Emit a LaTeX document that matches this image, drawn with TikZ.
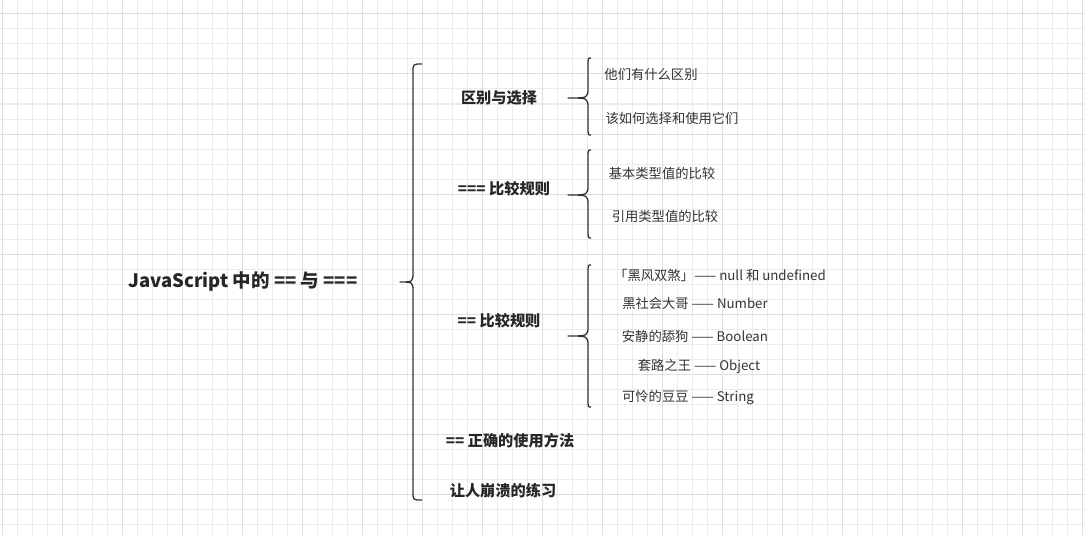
\documentclass[tikz,border=0pt]{standalone}
\usepackage{fontspec}
\setmainfont{Noto Sans CJK SC}
\begin{document}
\begin{tikzpicture}[x=1pt,y=-1pt,
  root/.style={font=\fontsize{18.5}{20}\selectfont\bfseries,text=black!85},
  sub/.style={font=\fontsize{15.2}{17}\selectfont\bfseries,text=black!85},
  leaf/.style={font=\fontsize{13.3}{15}\selectfont,text=black!80},
  br/.style={draw=black!80,line width=1.3pt,line join=round}]
\fill[white] (0,0) rectangle (1085,535);
\useasboundingbox (0,0) rectangle (1085,535);
\foreach \x in {2,17,...,1085} \draw[black!8,line width=1pt] (\x,0) -- (\x,535);
\foreach \y in {14,29,...,535} \draw[black!8,line width=1pt] (0,\y) -- (1085,\y);
\foreach \x in {2,62,...,1085} \draw[black!13,line width=1pt] (\x,0) -- (\x,535);
\foreach \y in {14,74,...,535} \draw[black!13,line width=1pt] (0,\y) -- (1085,\y);
\newcommand\mybrace[6]{% xr, xm, xtip, ytop, ytip, ybot
 \draw[br] (#1,#4) .. controls (#2,#4) .. (#2,#4+8) -- (#2,#5-10) .. controls (#2,#5) .. (#3,#5) .. controls (#2,#5) .. (#2,#5+10) -- (#2,#6-8) .. controls (#2,#6) .. (#1,#6);}
\node[root] (r) at (243,282) {JavaScript 中的 == 与 ===};
\mybrace{422}{413}{400}{64}{282}{500}
\node[sub] (a) at (499,98) {区别与选择};
\node[sub] (b) at (504,189) {=== 比较规则};
\node[sub] (c) at (499,321) {== 比较规则};
\node[sub] (d) at (510,441) {== 正确的使用方法};
\node[sub] (e) at (503,491) {让人崩溃的练习};
\mybrace{591}{588}{568}{58}{98}{135}
\mybrace{591}{588}{568}{150}{195}{238}
\mybrace{591}{588}{568}{265}{336}{407}
\node[leaf] (a1) at (651,74) {他们有什么区别};
\node[leaf] (a2) at (672,118) {该如何选择和使用它们};
\node[leaf] (b1) at (662,173) {基本类型值的比较};
\node[leaf] (b2) at (665,216) {引用类型值的比较};
\node[leaf] (c1) at (720,275) {「黑风双煞」—— null 和 undefined};
\node[leaf] (c2) at (695,303) {黑社会大哥 —— Number};
\node[leaf] (c3) at (695,336) {安静的舔狗 —— Boolean};
\node[leaf] (c4) at (699,366) {套路之王 —— Object};
\node[leaf] (c5) at (688,398) {可怜的豆豆 —— String};
\end{tikzpicture}
\end{document}
